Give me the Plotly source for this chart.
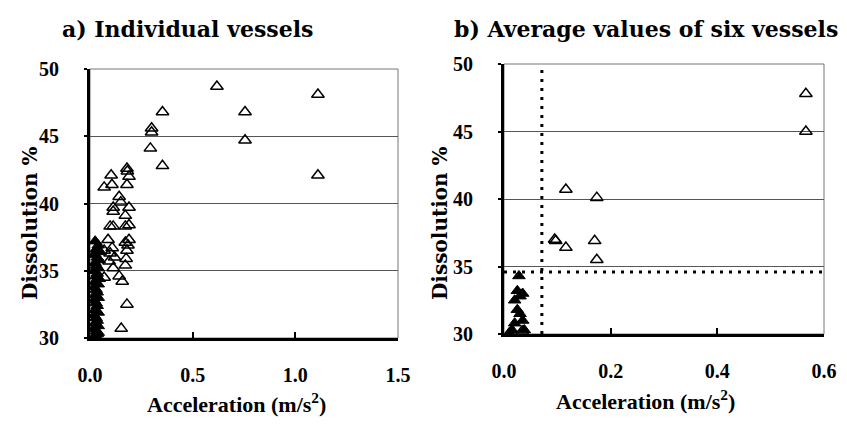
import plotly.graph_objects as go

# ---- Panel a: individual vessels ----
a_open_x = [0.618, 0.353, 0.755, 0.300, 0.300, 0.755, 0.294, 0.353, 1.110, 1.110,
            0.180, 0.182, 0.103, 0.190, 0.107, 0.069, 0.180, 0.142, 0.150, 0.113,
            0.190, 0.113, 0.172, 0.190, 0.098, 0.113, 0.172, 0.088, 0.190, 0.172,
            0.069, 0.108, 0.180, 0.098, 0.093, 0.176, 0.172, 0.113, 0.069, 0.142,
            0.157, 0.180, 0.152, 0.185, 0.120]
a_open_y = [48.7, 46.8, 46.8, 45.6, 45.3, 44.7, 44.1, 42.8, 48.1, 42.1,
            42.6, 42.4, 42.1, 42.0, 41.4, 41.2, 41.4, 40.5, 40.1, 39.7,
            39.7, 39.4, 39.1, 38.4, 38.3, 38.3, 38.3, 37.3, 37.3, 37.1,
            36.5, 36.7, 36.5, 36.3, 35.7, 35.9, 35.4, 35.2, 34.5, 34.6,
            34.2, 32.5, 30.7, 36.9, 36.0]
a_fill_x = [0.025, 0.040, 0.030, 0.050, 0.020, 0.035, 0.045, 0.025, 0.030, 0.040,
            0.020, 0.035, 0.030, 0.045, 0.025, 0.040, 0.020, 0.030, 0.035, 0.025,
            0.040, 0.020, 0.030, 0.035, 0.025, 0.040, 0.020, 0.030, 0.035, 0.025,
            0.040, 0.020, 0.030, 0.035, 0.025, 0.040, 0.030]
a_fill_y = [37.2, 36.9, 36.6, 36.4, 36.2, 36.0, 35.8, 35.6, 35.4, 35.2,
            35.0, 34.8, 34.6, 34.4, 34.2, 34.0, 33.8, 33.6, 33.4, 33.2,
            33.0, 32.8, 32.6, 32.4, 32.1, 31.9, 31.7, 31.5, 31.3, 31.1,
            30.9, 30.7, 30.5, 30.3, 30.2, 30.4, 30.1]

# ---- Panel b: average values of six vessels ----
b_open_x = [0.566, 0.566, 0.116, 0.174, 0.095, 0.097, 0.116, 0.170, 0.174, 0.034]
b_open_y = [47.8, 45.0, 40.7, 40.1, 37.0, 36.9, 36.4, 36.9, 35.5, 30.2]
b_fill_x = [0.028, 0.025, 0.030, 0.020, 0.035, 0.025, 0.030, 0.035, 0.020, 0.015, 0.010, 0.038]
b_fill_y = [34.3, 33.2, 32.8, 32.5, 33.0, 31.8, 31.5, 31.0, 30.8, 30.3, 30.1, 30.3]
b_acc_cut = 0.071
b_diss_cut = 34.6

x_ticks_a = [0.0, 0.5, 1.0, 1.5]
x_ticks_b = [0.0, 0.2, 0.4, 0.6]
y_ticks = [30, 35, 40, 45, 50]

W, H = 847, 430
FONT = "Liberation Serif"
TFONT = "DejaVu Serif"


def px_x(p):
    return p / W


def px_y(p):
    return 1 - p / H


fig = go.Figure()

mk_open = dict(symbol="triangle-up-open", size=11, color="black", line=dict(width=1.5, color="black"))
mk_fill = dict(symbol="triangle-up", size=11, color="black", line=dict(width=1, color="black"))

fig.add_trace(go.Scatter(x=a_open_x, y=a_open_y, mode="markers", marker=mk_open,
                         xaxis="x", yaxis="y", cliponaxis=False, showlegend=False))
fig.add_trace(go.Scatter(x=a_fill_x, y=a_fill_y, mode="markers", marker=mk_fill,
                         xaxis="x", yaxis="y", cliponaxis=False, showlegend=False))
fig.add_trace(go.Scatter(x=b_open_x, y=b_open_y, mode="markers", marker=mk_open,
                         xaxis="x2", yaxis="y2", cliponaxis=False, showlegend=False))
fig.add_trace(go.Scatter(x=b_fill_x, y=b_fill_y, mode="markers", marker=mk_fill,
                         xaxis="x2", yaxis="y2", cliponaxis=False, showlegend=False))

tickfont = dict(family=FONT, size=20, color="black")


def xax(domain, rng, ticks, anchor):
    return dict(domain=domain, range=rng, tickvals=ticks,
                ticktext=[f"<b>{t:.1f}</b>" for t in ticks],
                showline=True, linecolor="black", linewidth=3,
                ticks="inside", ticklen=6, tickwidth=2, tickcolor="black",
                showgrid=False, zeroline=False, anchor=anchor, automargin=False,
                tickfont=tickfont, ticklabelstandoff=17)


def yax(domain, anchor):
    return dict(domain=domain, range=[30, 50], tickvals=y_ticks,
                ticktext=[f"<b>{t}</b>" for t in y_ticks],
                showline=True, linecolor="black", linewidth=3,
                ticks="outside", ticklen=3, tickwidth=2, tickcolor="black",
                showgrid=True, gridcolor="#555555", gridwidth=1,
                zeroline=False, anchor=anchor, automargin=False,
                tickfont=tickfont, ticklabelstandoff=21)


fig.update_layout(
    width=W, height=H, margin=dict(l=0, r=0, t=0, b=0, autoexpand=False),
    paper_bgcolor="white", plot_bgcolor="white",
    xaxis=xax([px_x(90), px_x(398)], [0, 1.5], x_ticks_a, "y"),
    yaxis=yax([px_y(338), px_y(69)], "x"),
    xaxis2=xax([px_x(504), px_x(824)], [0, 0.6], x_ticks_b, "y2"),
    yaxis2=yax([px_y(334), px_y(64)], "x2"),
)

# thin top/right frame
for xr, yr in (("x", "y"), ("x2", "y2")):
    fig.add_shape(type="rect", xref=f"{xr} domain", yref=f"{yr} domain",
                  x0=0, x1=1, y0=0, y1=1, line=dict(color="#777777", width=1), layer="below")

# dotted threshold lines in panel b
fig.add_shape(type="line", xref="x2", yref="y2", x0=b_acc_cut, x1=b_acc_cut, y0=30, y1=50,
              line=dict(color="black", width=3, dash="3px,6px"))
fig.add_shape(type="line", xref="x2", yref="y2", x0=0, x1=0.6, y0=b_diss_cut, y1=b_diss_cut,
              line=dict(color="black", width=3, dash="3px,6px"))


def note(text, x, y, size, family, angle=0):
    fig.add_annotation(text=text, xref="paper", yref="paper", x=px_x(x), y=px_y(y),
                       xanchor="center", yanchor="middle", showarrow=False, textangle=angle,
                       font=dict(family=family, size=size, color="black"))


note("<b>a) Individual vessels</b>", 187, 29, 22, TFONT)
note("<b>b) Average values of six vessels</b>", 646, 29, 22, TFONT)
note("<b>Acceleration (m/s<sup>2</sup>)</b>", 236, 403, 22, FONT)
note("<b>Acceleration (m/s<sup>2</sup>)</b>", 645, 400, 22, FONT)
note("<b>Dissolution %</b>", 30, 223, 20, TFONT, -90)
note("<b>Dissolution %</b>", 440, 223, 20, TFONT, -90)

fig.write_html("out.html")
